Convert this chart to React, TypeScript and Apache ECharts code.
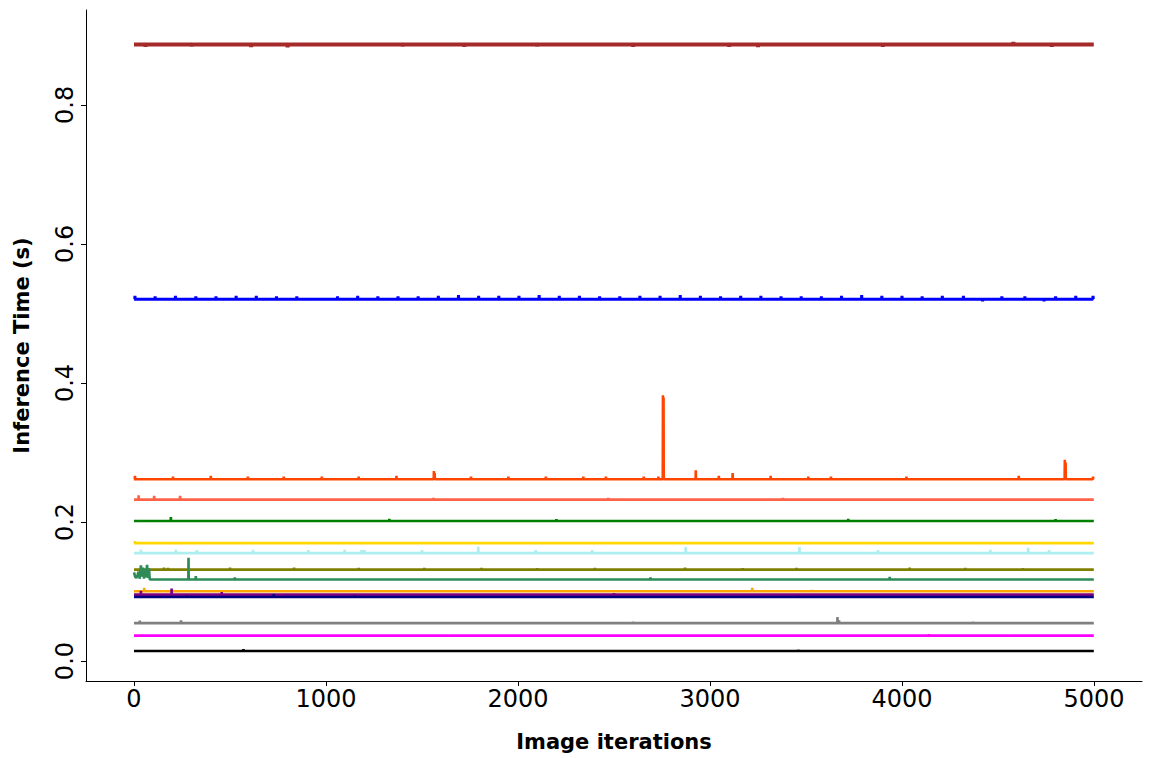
import React, { useEffect, useRef } from "react";
import * as echarts from "echarts";

// ---- axis ticks ----
const X_TICKS = [0, 1000, 2000, 3000, 4000, 5000];
const Y_TICKS = [0, 0.2, 0.4, 0.6, 0.8];
const X_LAST = 4999;

// ---- series (baseline level + visible spikes [iteration, value]) ----
const SERIES_COLORS = [
  "#a52a2a", "#0000ff", "#ff4500", "#ff6347", "#008000", "#ffd700", "#afeeee", "#808000",
  "#2e8b57", "#ffa500", "#800080", "#000080", "#808080", "#ff00ff", "#000000",
];
const SERIES_BASE = [
  0.8868, 0.5205, 0.2615, 0.2322, 0.2015, 0.1696, 0.1552, 0.1315,
  0.1174, 0.1003, 0.0956, 0.0921, 0.0545, 0.0365, 0.0145,
];

const brownSpikes = [
  [60, 0.8835], [300, 0.8838], [610, 0.8832], [800, 0.8826], [1400, 0.8838], [1720, 0.8836],
  [2100, 0.8838], [2600, 0.8836], [3100, 0.8834], [3250, 0.8832], [3900, 0.8836],
  [4580, 0.8905], [4780, 0.8836],
];
const blueSpikes = [
  [5, 0.5255], [110, 0.5245], [216, 0.5255], [322, 0.5245], [427, 0.5245], [532, 0.5255],
  [637, 0.5255], [742, 0.5245], [848, 0.5245], [957, 0.5185], [1060, 0.5245], [1165, 0.5255],
  [1270, 0.5245], [1375, 0.5245], [1480, 0.5245], [1585, 0.5255], [1690, 0.5265], [1795, 0.5255],
  [1900, 0.5255], [2005, 0.5255], [2110, 0.5265], [2215, 0.5255], [2320, 0.5255], [2425, 0.5245],
  [2530, 0.5245], [2635, 0.5255], [2740, 0.5255], [2845, 0.5265], [2950, 0.5255], [3055, 0.5245],
  [3160, 0.5255], [3265, 0.5255], [3370, 0.5245], [3475, 0.5245], [3580, 0.5245], [3685, 0.5255],
  [3790, 0.5265], [3895, 0.5255], [4000, 0.5255], [4105, 0.5245], [4210, 0.5255], [4320, 0.5255],
  [4420, 0.5175], [4460, 0.5185], [4520, 0.5245], [4560, 0.5185], [4640, 0.5245], [4700, 0.5185],
  [4740, 0.5175], [4800, 0.5245], [4905, 0.5255], [4995, 0.5255],
];
const orangeRedSpikes = [
  [5, 0.2665], [203, 0.2655], [400, 0.2665], [593, 0.2655], [780, 0.2655], [978, 0.2655],
  [1170, 0.2655], [1367, 0.2665], [1562, 0.2735], [1566, 0.2705], [1755, 0.2655], [1950, 0.2655],
  [2145, 0.2655], [2340, 0.2655], [2458, 0.2655], [2655, 0.2655], [2731, 0.2655], [2755, 0.3825],
  [2758, 0.379], [2926, 0.2745], [3046, 0.2665], [3118, 0.2705], [3316, 0.2665], [3512, 0.2655],
  [3630, 0.2655], [4023, 0.2655], [4608, 0.2665], [4848, 0.2895], [4852, 0.2855], [4995, 0.2655],
];
const tomatoSpikes = [
  [24, 0.2385], [105, 0.2375], [240, 0.2375], [1560, 0.2345], [2470, 0.2345], [3380, 0.2345],
];
const greenSpikes = [
  [192, 0.2072], [1330, 0.2045], [2200, 0.204], [3720, 0.2045], [4800, 0.204],
];
const goldSpikes = [
  [5, 0.1725], [196, 0.1715], [473, 0.1715], [747, 0.1712], [1024, 0.1715], [1298, 0.1712],
  [2600, 0.1712], [2830, 0.1712], [3460, 0.1712],
];
const turquoiseSpikes = [
  [36, 0.1605], [218, 0.1600], [327, 0.1598], [620, 0.1600], [908, 0.1598], [1097, 0.1600],
  [1185, 0.1595], [1200, 0.1595], [1500, 0.1595], [1793, 0.1645], [2092, 0.1595], [2386, 0.1595],
  [2874, 0.1640], [3466, 0.1640], [3875, 0.1595], [4460, 0.1600], [4657, 0.1630], [4766, 0.1595],
];
const oliveSpikes = [
  [156, 0.1342], [177, 0.1340], [500, 0.1342], [834, 0.1342], [1170, 0.1340], [1512, 0.1340],
  [1810, 0.1340], [2100, 0.1338], [2400, 0.1340], [2870, 0.1342], [3170, 0.1338], [3450, 0.1340],
  [4040, 0.1342], [4330, 0.1340], [4630, 0.1338],
];
const seaGreenHead = [
  [0, 0.1275], [6, 0.1215], [12, 0.1195], [18, 0.1235], [24, 0.1285], [30, 0.1185], [36, 0.1375],
  [41, 0.1215], [47, 0.1345], [52, 0.1185], [58, 0.1325], [63, 0.1205], [68, 0.1385], [73, 0.1195],
  [78, 0.1335], [82, 0.1174],
];
const seaGreenSpikes = [
  [284, 0.1485], [322, 0.1222], [525, 0.1205], [2690, 0.1205], [3936, 0.1212],
];
const orangeSpikes = [[53, 0.1052], [1210, 0.1020], [3220, 0.1052], [3530, 0.1025]];
const purpleSpikes = [[36, 0.1012], [196, 0.1042], [457, 0.0992], [2500, 0.0975]];
const navySpikes = [[275, 0.0945], [728, 0.0962], [1150, 0.0945], [3460, 0.0940]];
const graySpikes = [[30, 0.0582], [245, 0.0585], [2600, 0.0565], [3664, 0.0632], [3672, 0.0585], [4370, 0.0565]];
const magentaSpikes = [[1640, 0.0378], [4140, 0.0385], [4560, 0.0378]];
const blackSpikes = [[570, 0.0172], [3460, 0.0165]];

const SERIES_SPIKES = [
  brownSpikes, blueSpikes, orangeRedSpikes, tomatoSpikes, greenSpikes, goldSpikes,
  turquoiseSpikes, oliveSpikes, seaGreenSpikes, orangeSpikes, purpleSpikes, navySpikes,
  graySpikes, magentaSpikes, blackSpikes,
];
const SERIES_HEADS: number[][][] = [
  [], [], [], [], [], [], [], [], seaGreenHead, [], [], [], [], [], [],
];

function buildLine(base: number, spikes: number[][], head: number[][]) {
  const pts: number[][] = head.length ? head.map((p) => [p[0], p[1]]) : [[0, base]];
  let lastX = pts[pts.length - 1][0];
  const sorted = [...spikes].sort((a, b) => a[0] - b[0]);
  for (const [x, y] of sorted) {
    if (x - 1 > lastX) pts.push([x - 1, base]);
    pts.push([x, y]);
    pts.push([x + 1, base]);
    lastX = x + 1;
  }
  if (lastX < X_LAST) pts.push([X_LAST, base]);
  return pts;
}

const FONT = "DejaVu Sans";

export default function App() {
  const ref = useRef<HTMLDivElement>(null);
  useEffect(() => {
    if (!ref.current) return;
    const chart = echarts.init(ref.current, undefined, { renderer: "svg" });
    const series = SERIES_BASE.map((base, i) => ({
      type: "line",
      data: buildLine(base, SERIES_SPIKES[i], SERIES_HEADS[i]),
      showSymbol: false,
      symbol: "none",
      silent: true,
      lineStyle: { color: SERIES_COLORS[i], width: i === 0 ? 4 : i === 1 ? 3 : 2.6 },
      itemStyle: { color: SERIES_COLORS[i] },
      emphasis: { disabled: true },
    }));
    chart.setOption({
      animation: false,
      backgroundColor: "#ffffff",
      grid: { left: 86, right: 8, top: 10, bottom: 77 },
      xAxis: {
        type: "value",
        min: -250,
        max: 5250,
        name: "Image iterations",
        nameLocation: "middle",
        nameGap: 50,
        nameTextStyle: { fontFamily: FONT, fontWeight: "bold", fontSize: 21, color: "#000" },
        axisLine: { show: true, onZero: false, lineStyle: { color: "#000", width: 1 } },
        axisTick: { show: true, length: 5, customValues: X_TICKS, lineStyle: { color: "#000" } },
        axisLabel: {
          customValues: X_TICKS,
          fontFamily: FONT,
          fontSize: 24,
          color: "#000",
          margin: 6,
          formatter: (v: number) => String(Math.round(v)),
        },
        splitLine: { show: false },
      },
      yAxis: {
        type: "value",
        min: -0.0287,
        max: 0.9365,
        name: "Inference Time (s)",
        nameLocation: "middle",
        nameGap: 54,
        nameRotate: 90,
        nameTextStyle: { fontFamily: FONT, fontWeight: "bold", fontSize: 21, color: "#000" },
        axisLine: { show: true, onZero: false, lineStyle: { color: "#000", width: 1 } },
        axisTick: { show: true, length: 5, customValues: Y_TICKS, lineStyle: { color: "#000" } },
        axisLabel: {
          customValues: Y_TICKS,
          rotate: 90,
          fontFamily: FONT,
          fontSize: 24,
          color: "#000",
          margin: 9,
          formatter: (v: number) => v.toFixed(1),
        },
        splitLine: { show: false },
      },
      series,
    });
    return () => chart.dispose();
  }, []);
  return (
    <div
      ref={ref}
      style={{ position: "fixed", left: 0, top: 0, width: 1150, height: 758, background: "#fff" }}
    />
  );
}
